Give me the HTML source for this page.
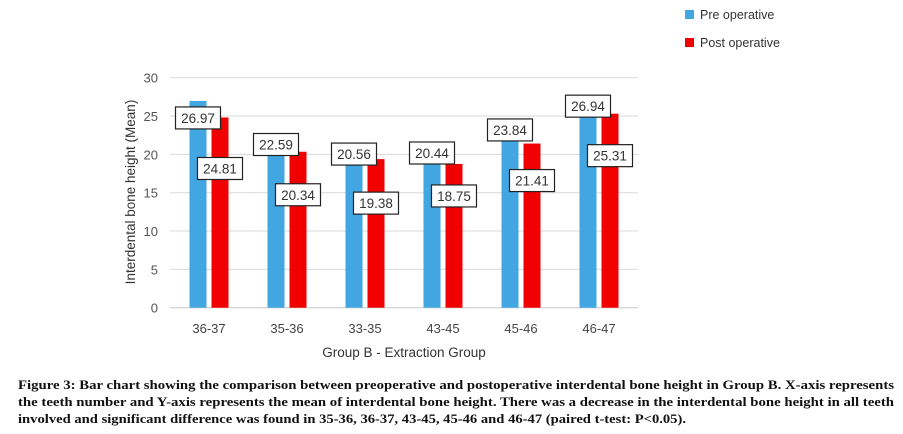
<!DOCTYPE html>
<html><head><meta charset="utf-8"><style>
html,body{margin:0;padding:0;background:#fff;}
svg{display:block;font-family:"Liberation Sans",sans-serif;}
</style></head><body>
<svg id="chart" width="903" height="434" viewBox="0 0 903 434" xmlns="http://www.w3.org/2000/svg">
<g id="grid"></g>
<g id="bars"></g>
<g id="xlabels"></g>
<g id="ylabels"></g>
<text transform="translate(135,192) rotate(-90)" text-anchor="middle" font-size="13.5" fill="#333">Interdental bone height (Mean)</text>
<text x="404" y="357" text-anchor="middle" font-size="13.5" fill="#333">Group B - Extraction Group</text>
<g>
<g><rect x="685" y="10" width="9" height="9" fill="#41a6e1"/><text x="700" y="19" font-size="12.5" fill="#333">Pre operative</text></g>
<g><rect x="685" y="38" width="9" height="9" fill="#f00000"/><text x="700" y="47" font-size="12.5" fill="#333">Post operative</text></g>
</g>
<g font-family="'Liberation Serif',serif" font-weight="bold" font-size="12.5" fill="#111">
<text x="18" y="389" textLength="876" lengthAdjust="spacingAndGlyphs">Figure 3: Bar chart showing the comparison between preoperative and postoperative interdental bone height in Group B. X-axis represents</text>
<text x="18" y="406" textLength="876" lengthAdjust="spacingAndGlyphs">the teeth number and Y-axis represents the mean of interdental bone height. There was a decrease in the interdental bone height in all teeth</text>
<text x="18" y="423" textLength="668" lengthAdjust="spacingAndGlyphs">involved and significant difference was found in 35-36, 36-37, 43-45, 45-46 and 46-47 (paired t-test: P&lt;0.05).</text>
</g>
</svg>
<script>
const categories = ["36-37","35-36","33-35","43-45","45-46","46-47"];
const preValues = [26.97,22.59,20.56,20.44,23.84,26.94];
const postValues = [24.81,20.34,19.38,18.75,21.41,25.31];
const yTicks = [0,5,10,15,20,25,30];
const preLabelOffset = [17,10,4,2,5,5];
const postLabelOffset = [51,43,44,32,37,42];

const NS="http://www.w3.org/2000/svg";
const left=170, right=638, top0=77.7, bottom=307.7, yMax=30;
const step=(right-left)/categories.length;
function y(v){return bottom-(v/yMax)*(bottom-top0);}
function cx(i){return left+step*i+step/2;}
function mk(tag,attrs,parent){const e=document.createElementNS(NS,tag);for(const k in attrs)e.setAttribute(k,attrs[k]);parent.appendChild(e);return e;}
const grid=document.getElementById('grid'),bars=document.getElementById('bars'),xl=document.getElementById('xlabels'),yl=document.getElementById('ylabels');
yTicks.forEach(t=>{
  const l=mk('line',{x1:left,x2:right,y1:y(t),y2:y(t),stroke:t===0?'#c8c8c8':'#d9d9d9','stroke-width':1},grid);
  
  
  const tx=mk('text',{x:158,y:y(t)+5,'text-anchor':'end','font-size':13,fill:'#555'},yl);
  tx.textContent=t;
  
  
});
const bw=17;
categories.forEach((c,i)=>{
  const c0=cx(i);
  const bx=c0-bw-2.5, rx=c0+2.5;
  const b=mk('rect',{x:bx,y:y(preValues[i]),width:bw,height:bottom-y(preValues[i]),fill:'#41a6e1'},bars);
  
  
  const r=mk('rect',{x:rx,y:y(postValues[i]),width:bw,height:bottom-y(postValues[i]),fill:'#f00000'},bars);
  
  
  [[bx+bw/2,preValues[i],preLabelOffset[i],'pre'],[rx+bw/2,postValues[i],postLabelOffset[i],'post']].forEach(([x0,v,off,s])=>{
    const g=mk('g',{},bars);
    
    
    const cy=y(v)+off;
    mk('rect',{x:x0-22.5,y:cy-11,width:45,height:22,fill:'#fff',stroke:'#222','stroke-width':1.2},g);
    const t=mk('text',{x:x0,y:cy+5,'text-anchor':'middle','font-size':13.5,fill:'#333'},g);
    t.textContent=v.toFixed(2);
  });
  const t=mk('text',{x:c0,y:333,'text-anchor':'middle','font-size':13,fill:'#444'},xl);
  t.textContent=c;
  
  
});
</script>
</body></html>
